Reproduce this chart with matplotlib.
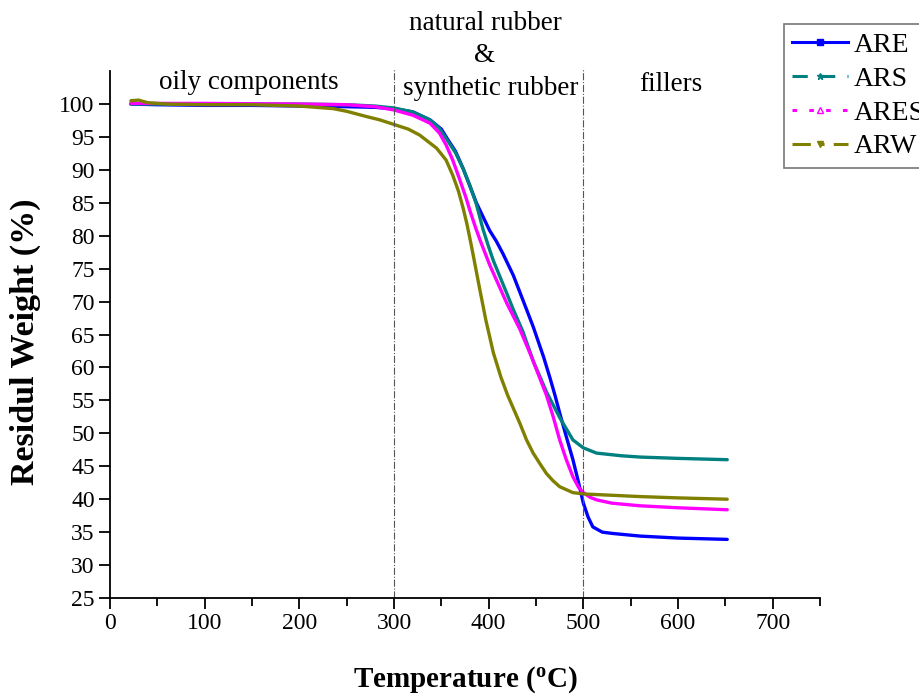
import matplotlib
matplotlib.use("Agg")
import matplotlib.pyplot as plt
from matplotlib.lines import Line2D

plt.rcParams['font.family'] = ['Liberation Serif', 'DejaVu Serif']
plt.rcParams['mathtext.fontset'] = 'custom'
plt.rcParams['mathtext.rm'] = 'Liberation Serif'
plt.rcParams['mathtext.bf'] = 'Liberation Serif:bold'

# Thermogravimetric curves: temperature (degC) vs residual weight (%)
are_t = [22, 50, 100, 150, 200, 250, 280, 300, 320, 338, 350, 356, 365, 373, 380,
         387, 394, 401, 408, 415, 426, 436, 447, 458, 465, 470, 475, 482, 489, 495,
         500, 505, 510, 520, 531, 560, 600, 652]
are_w = [100.0, 99.9, 99.8, 99.8, 99.7, 99.6, 99.5, 99.3, 98.8, 97.6, 96.2, 94.8, 92.8,
         90.2, 87.6, 85.0, 82.9, 80.8, 79.2, 77.3, 74.0, 70.3, 66.2, 61.6, 58.3, 55.8,
         53.1, 49.5, 46.0, 42.5, 39.4, 37.3, 35.8, 35.0, 34.8, 34.4, 34.1, 33.9]

ars_t = [22, 100, 200, 250, 280, 300, 320, 338, 348, 355, 365, 373, 380, 387, 394,
         400, 405, 419, 426, 436, 447, 461, 475, 489, 500, 514, 540, 560, 600, 652]
ars_w = [100.0, 100.0, 100.0, 99.9, 99.7, 99.4, 98.8, 97.6, 96.3, 94.8, 92.6, 90.2,
         87.7, 84.8, 81.0, 78.3, 76.2, 71.3, 68.8, 65.5, 61.0, 56.3, 52.4, 49.0, 47.8,
         47.0, 46.6, 46.4, 46.2, 46.0]

ares_t = [22, 100, 200, 250, 280, 300, 320, 338, 348, 355, 362, 369, 376, 380, 386,
          391, 401, 410, 419, 433, 445, 455, 461, 468, 475, 482, 489, 495, 500, 507,
          514, 530, 560, 600, 652]
ares_w = [100.1, 100.1, 100.0, 99.9, 99.6, 99.1, 98.3, 97.1, 95.6, 93.8, 91.5, 88.7,
          85.8, 83.9, 81.3, 79.3, 75.6, 72.7, 69.8, 65.8, 61.7, 58.0, 55.8, 52.6, 49.0,
          46.0, 43.4, 41.8, 41.0, 40.3, 39.9, 39.4, 39.0, 38.7, 38.4]

arw_t = [22, 30, 40, 60, 100, 150, 200, 236, 250, 271, 285, 300, 315, 327, 345, 355,
         362, 368, 373, 377, 381, 384, 390, 397, 405, 413, 420, 433, 440, 447, 455,
         461, 468, 475, 489, 500, 530, 560, 600, 652]
arw_w = [100.5, 100.6, 100.2, 100.0, 99.9, 99.9, 99.7, 99.3, 98.9, 98.1, 97.6, 96.9,
         96.2, 95.3, 93.3, 91.5, 89.2, 86.8, 84.2, 81.8, 79.0, 76.8, 72.3, 67.2, 62.2,
         58.5, 55.8, 51.5, 49.0, 47.0, 45.2, 43.9, 42.8, 41.9, 41.0, 40.8, 40.6, 40.4,
         40.2, 40.0]

series_names = ['ARE', 'ARS', 'ARES', 'ARW']
series_colors = ['#0000ff', '#008080', '#ff00ff', '#808000']

fig = plt.figure(figsize=(9.2, 6.96), dpi=100)
ax = fig.add_axes([0.1196, 0.1408, 0.7717, 0.7570])

data = [(are_t, are_w), (ars_t, ars_w), (ares_t, ares_w), (arw_t, arw_w)]
for (t, w), c in zip(data, series_colors):
    ax.plot(t, w, color=c, lw=2.4, solid_capstyle='round', solid_joinstyle='round')

# Region boundaries
for xb in (300, 500):
    ax.axvline(xb, color='#555555', ls='-.', lw=0.8, ymin=0, ymax=1.005, clip_on=False)

ax.set_xlim(0, 750)
ax.set_ylim(25, 105)
ax.set_xticks(range(0, 701, 100))
ax.set_xticks(range(50, 751, 100), minor=True)
ax.set_yticks(range(25, 101, 5))

for s in ('top', 'right'):
    ax.spines[s].set_visible(False)
for s in ('left', 'bottom'):
    ax.spines[s].set_linewidth(1.3)

ax.tick_params(axis='both', which='major', direction='out', length=8, width=1.3,
               labelsize=17, pad=3)
ax.tick_params(axis='x', which='minor', direction='out', length=6, width=1.3)

ax.set_xlabel(r'Temperature ($\mathregular{^o}$C)', fontsize=21, fontweight='bold',
              labelpad=22)
ax.set_ylabel('Residul Weight (%)', fontsize=24.5, fontweight='bold')
ax.yaxis.set_label_coords(-0.097, 0.486)

# Region annotations
ax.text(147, 103.3, 'oily components', fontsize=19.5, ha='center', va='center')
ax.text(592, 102.9, 'fillers', fontsize=19.5, ha='center', va='center')
ax.text(396, 112.3, 'natural rubber', fontsize=19.5, ha='center', va='center', clip_on=False)
ax.text(396, 107.4, '&', fontsize=19.5, ha='center', va='center', clip_on=False)
ax.text(402, 102.4, 'synthetic rubber', fontsize=19.5, ha='center', va='center', clip_on=False)

handles = [
    Line2D([], [], color=series_colors[0], lw=2.2, ls='-', marker='s', markersize=4),
    Line2D([], [], color=series_colors[1], lw=2.2, ls=(0, (5, 4)), marker='*', markersize=5),
    Line2D([], [], color=series_colors[2], lw=2.2, ls=(0, (1.5, 4)), marker='^',
           markersize=5, markerfacecolor='none'),
    Line2D([], [], color=series_colors[3], lw=2.2, ls=(0, (6, 3, 1.5, 3)), marker='v',
           markersize=5),
]
leg = fig.legend(handles, series_names, loc='upper left',
                 bbox_to_anchor=(0.852, 0.965), bbox_transform=fig.transFigure,
                 fontsize=20, frameon=True, fancybox=False, handlelength=2.0,
                 handletextpad=0.2, labelspacing=0.3, borderpad=0.3, borderaxespad=0)
leg.get_frame().set_edgecolor('#555555')
leg.get_frame().set_linewidth(1.2)

fig.savefig('out.png', dpi=100)
